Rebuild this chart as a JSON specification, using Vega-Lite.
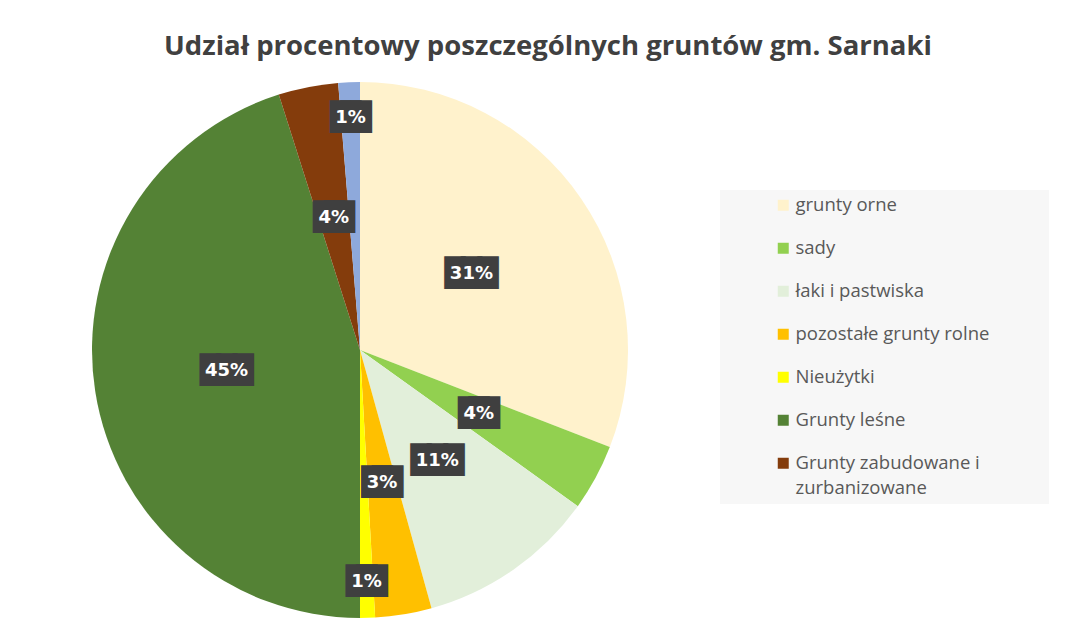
{
  "$schema": "https://vega.github.io/schema/vega-lite/v6.json",
  "width": 720,
  "height": 700,
  "autosize": {"type": "none"},
  "padding": {"left": 0, "top": 0, "right": 354, "bottom": 0},
  "background": "white",
  "config": {
    "view": {"stroke": null},
    "style": {"guide-label": {"lineHeight": 25}}
  },
  "title": {
    "text": "Udział procentowy poszczególnych gruntów gm. Sarnaki",
    "font": "Open Sans",
    "fontSize": 27.5,
    "fontWeight": "bold",
    "color": "#404040",
    "anchor": "middle",
    "frame": "group",
    "orient": "top",
    "offset": 0,
    "baseline": "alphabetic",
    "dx": 188,
    "dy": 82
  },
  "data": {
    "values": [
      {"kategoria": "grunty orne", "udzial": 0.309, "kolejnosc": 1},
      {"kategoria": "sady", "udzial": 0.040, "kolejnosc": 2},
      {"kategoria": "łaki i pastwiska", "udzial": 0.108, "kolejnosc": 3},
      {"kategoria": "pozostałe grunty rolne", "udzial": 0.034, "kolejnosc": 4},
      {"kategoria": "Nieużytki", "udzial": 0.009, "kolejnosc": 5},
      {"kategoria": "Grunty leśne", "udzial": 0.451, "kolejnosc": 6},
      {"kategoria": "Grunty zabudowane i zurbanizowane", "udzial": 0.036, "kolejnosc": 7},
      {"kategoria": "Grunty pod wodami", "udzial": 0.013, "kolejnosc": 8}
    ]
  },
  "encoding": {
    "theta": {"field": "udzial", "type": "quantitative", "stack": true},
    "order": {"field": "kolejnosc", "type": "quantitative"}
  },
  "layer": [
    {
      "mark": {"type": "arc", "outerRadius": 268, "strokeWidth": 0},
      "encoding": {
        "color": {
          "field": "kategoria",
          "type": "nominal",
          "scale": {
            "domain": ["grunty orne", "sady", "łaki i pastwiska", "pozostałe grunty rolne", "Nieużytki", "Grunty leśne", "Grunty zabudowane i zurbanizowane", "Grunty pod wodami"],
            "range": ["#FFF2CC", "#92D050", "#E2EFDA", "#FFC000", "#FFFF00", "#548235", "#843C0C", "#8EA9DB"]
          },
          "legend": {
            "orient": "none",
            "legendX": 720,
            "legendY": 190,
            "values": ["grunty orne", "sady", "łaki i pastwiska", "pozostałe grunty rolne", "Nieużytki", "Grunty leśne", "Grunty zabudowane i zurbanizowane"],
            "title": " ",
            "titleOrient": "right",
            "titlePadding": 54,
            "titleFontSize": 4,
            "fillColor": "#F7F7F7",
            "padding": 6,
            "symbolType": "square",
            "symbolSize": 121,
            "symbolStrokeWidth": 0,
            "symbolOffset": 48,
            "labelFont": "Open Sans",
            "labelFontSize": 18.5,
            "labelColor": "#595959",
            "labelOffset": 3,
            "labelLimit": 400,
            "rowPadding": 24,
            "labelExpr": "datum.label == 'Grunty zabudowane i zurbanizowane' ? ['Grunty zabudowane i', 'zurbanizowane'] : datum.label"
          }
        }
      }
    },
    {
      "mark": {"type": "text", "radius": 135, "font": "DejaVu Sans", "fontSize": 27.5, "color": "#3F3F3F", "baseline": "middle", "align": "center"},
      "encoding": {"text": {"value": "█"}, "opacity": {"condition": {"test": "datum.udzial >= 0.02", "value": 1}, "value": 0}}
    },
    {
      "mark": {"type": "text", "radius": 135, "font": "DejaVu Sans", "fontSize": 27.5, "color": "#3F3F3F", "baseline": "middle", "align": "center", "dx": -10.5},
      "encoding": {"text": {"value": "█"}, "opacity": {"condition": {"test": "datum.udzial >= 0.02 && datum.udzial < 0.095", "value": 1}, "value": 0}}
    },
    {
      "mark": {"type": "text", "radius": 135, "font": "DejaVu Sans", "fontSize": 27.5, "color": "#3F3F3F", "baseline": "middle", "align": "center", "dx": 10.5},
      "encoding": {"text": {"value": "█"}, "opacity": {"condition": {"test": "datum.udzial >= 0.02 && datum.udzial < 0.095", "value": 1}, "value": 0}}
    },
    {
      "mark": {"type": "text", "radius": 135, "font": "DejaVu Sans", "fontSize": 27.5, "color": "#3F3F3F", "baseline": "middle", "align": "center", "dx": -16.5},
      "encoding": {"text": {"value": "█"}, "opacity": {"condition": {"test": "datum.udzial >= 0.095", "value": 1}, "value": 0}}
    },
    {
      "mark": {"type": "text", "radius": 135, "font": "DejaVu Sans", "fontSize": 27.5, "color": "#3F3F3F", "baseline": "middle", "align": "center", "dx": 16.5},
      "encoding": {"text": {"value": "█"}, "opacity": {"condition": {"test": "datum.udzial >= 0.095", "value": 1}, "value": 0}}
    },
    {
      "mark": {"type": "text", "radius": 135, "font": "DejaVu Sans", "fontSize": 18, "fontWeight": "bold", "color": "#FFFFFF", "baseline": "middle", "align": "center"},
      "encoding": {"text": {"field": "udzial", "type": "quantitative", "format": ".0%"}, "opacity": {"condition": {"test": "datum.udzial >= 0.02", "value": 1}, "value": 0}}
    },
    {
      "mark": {"type": "text", "radius": 232, "font": "DejaVu Sans", "fontSize": 27.5, "color": "#3F3F3F", "baseline": "middle", "align": "center"},
      "encoding": {"text": {"value": "█"}, "opacity": {"condition": {"test": "datum.udzial < 0.02", "value": 1}, "value": 0}}
    },
    {
      "mark": {"type": "text", "radius": 232, "font": "DejaVu Sans", "fontSize": 27.5, "color": "#3F3F3F", "baseline": "middle", "align": "center", "dx": -10.5},
      "encoding": {"text": {"value": "█"}, "opacity": {"condition": {"test": "datum.udzial < 0.02", "value": 1}, "value": 0}}
    },
    {
      "mark": {"type": "text", "radius": 232, "font": "DejaVu Sans", "fontSize": 27.5, "color": "#3F3F3F", "baseline": "middle", "align": "center", "dx": 10.5},
      "encoding": {"text": {"value": "█"}, "opacity": {"condition": {"test": "datum.udzial < 0.02", "value": 1}, "value": 0}}
    },
    {
      "mark": {"type": "text", "radius": 232, "font": "DejaVu Sans", "fontSize": 18, "fontWeight": "bold", "color": "#FFFFFF", "baseline": "middle", "align": "center"},
      "encoding": {"text": {"field": "udzial", "type": "quantitative", "format": ".0%"}, "opacity": {"condition": {"test": "datum.udzial < 0.02", "value": 1}, "value": 0}}
    }
  ]
}
